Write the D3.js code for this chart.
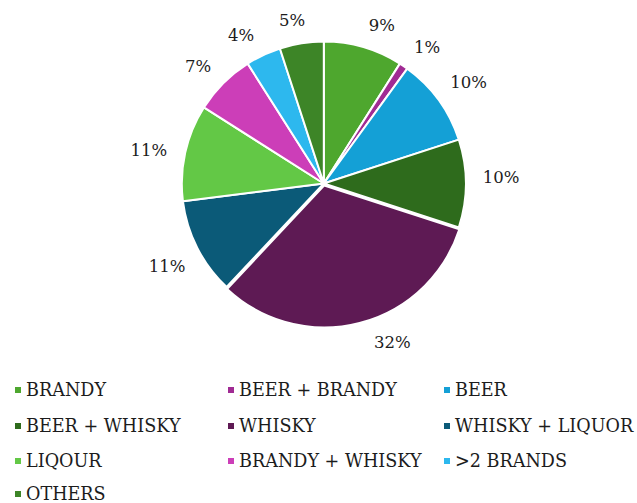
<!DOCTYPE html>
<html>
<head>
<meta charset="utf-8">
<script src="https://cdn.jsdelivr.net/npm/d3@7"></script>
<style>
  html, body { margin: 0; padding: 0; background: #ffffff; }
  svg { display: block; }
</style>
</head>
<body>
<svg id="chart" width="637" height="503"></svg>
<script>
// Drinking preference shares (percent)
const categories = ["BRANDY", "BEER + BRANDY", "BEER", "BEER + WHISKY", "WHISKY",
  "WHISKY + LIQUOR", "LIQOUR", "BRANDY + WHISKY", ">2 BRANDS", "OTHERS"];
const shares = [9, 1, 10, 10, 32, 11, 11, 7, 4, 5];
const sliceColors = ["#4ea72e", "#a02b93", "#14a0d6", "#2e6b1c", "#5e1a54",
  "#0b5a78", "#63c846", "#cc3eb8", "#2db8ee", "#3d8527"];

const FONT = "'DejaVu Serif', serif";
const TEXT_COLOR = "#1c1c1c";

const svg = d3.select("#chart");
const cx = 323.8, cy = 183.5, radius = 142;
const labelGap = 159;      // distance from centre to the near edge of a label box
const labelHalfH = 5;
// small angular nudges (degrees) so labels sit clear of their neighbours
const labelNudge = {
  "BRANDY": 4, "BEER + BRANDY": 3, "BEER": 1, "BEER + WHISKY": -2, "WHISKY": -9,
  "WHISKY + LIQUOR": -1, "LIQOUR": -2, "BRANDY + WHISKY": -2, ">2 BRANDS": -4, "OTHERS": -2
};
const explode = { "WHISKY": 2 };

const data = categories.map((c, i) => ({ name: c, value: shares[i], color: sliceColors[i] }));

const pie = d3.pie().value(d => d.value).sort(null);
const arcs = pie(data);
const arc = d3.arc().innerRadius(0).outerRadius(radius);

const g = svg.append("g").attr("transform", `translate(${cx},${cy})`);

g.selectAll("path.slice")
  .data(arcs)
  .join("path")
  .attr("class", "slice")
  .attr("d", arc)
  .attr("fill", d => d.data.color)
  .attr("stroke", "#ffffff")
  .attr("stroke-width", 2)
  .attr("stroke-linejoin", "round")
  .attr("transform", d => {
    const e = explode[d.data.name] || 0;
    const a = (d.startAngle + d.endAngle) / 2;
    return `translate(${Math.sin(a) * e},${-Math.cos(a) * e})`;
  });

const labelAngle = d => (d.startAngle + d.endAngle) / 2 + (labelNudge[d.data.name] || 0) * Math.PI / 180;

// percentage labels, pushed out along the slice direction past the rim
g.selectAll("text.pct")
  .data(arcs)
  .join("text")
  .attr("class", "pct")
  .attr("text-anchor", "middle")
  .attr("dominant-baseline", "central")
  .attr("font-family", FONT)
  .attr("font-size", 16.5)
  .attr("fill", TEXT_COLOR)
  .text(d => d.data.value + "%")
  .each(function (d) {
    const a = labelAngle(d);
    const halfW = this.getComputedTextLength() / 2;
    const r = labelGap + (explode[d.data.name] || 0)
      + halfW * Math.abs(Math.sin(a)) + labelHalfH * Math.abs(Math.cos(a));
    d3.select(this).attr("x", Math.sin(a) * r).attr("y", -Math.cos(a) * r);
  });

// Legend: three columns, filled row by row
const colX = [15, 228, 444];
const rowY = [390, 426, 461, 494];
const legend = svg.append("g").attr("class", "legend");
const items = legend.selectAll("g.item")
  .data(data)
  .join("g")
  .attr("class", "item")
  .attr("transform", (d, i) => `translate(${colX[i % 3]},${rowY[Math.floor(i / 3)]})`);

items.append("rect")
  .attr("x", 0).attr("y", -3)
  .attr("width", 6).attr("height", 6)
  .attr("fill", d => d.color);

items.append("text")
  .attr("x", 11)
  .attr("y", 0)
  .attr("dominant-baseline", "central")
  .attr("font-family", FONT)
  .attr("font-size", 17.6)
  .attr("fill", TEXT_COLOR)
  .text(d => d.name);
</script>
</body>
</html>
